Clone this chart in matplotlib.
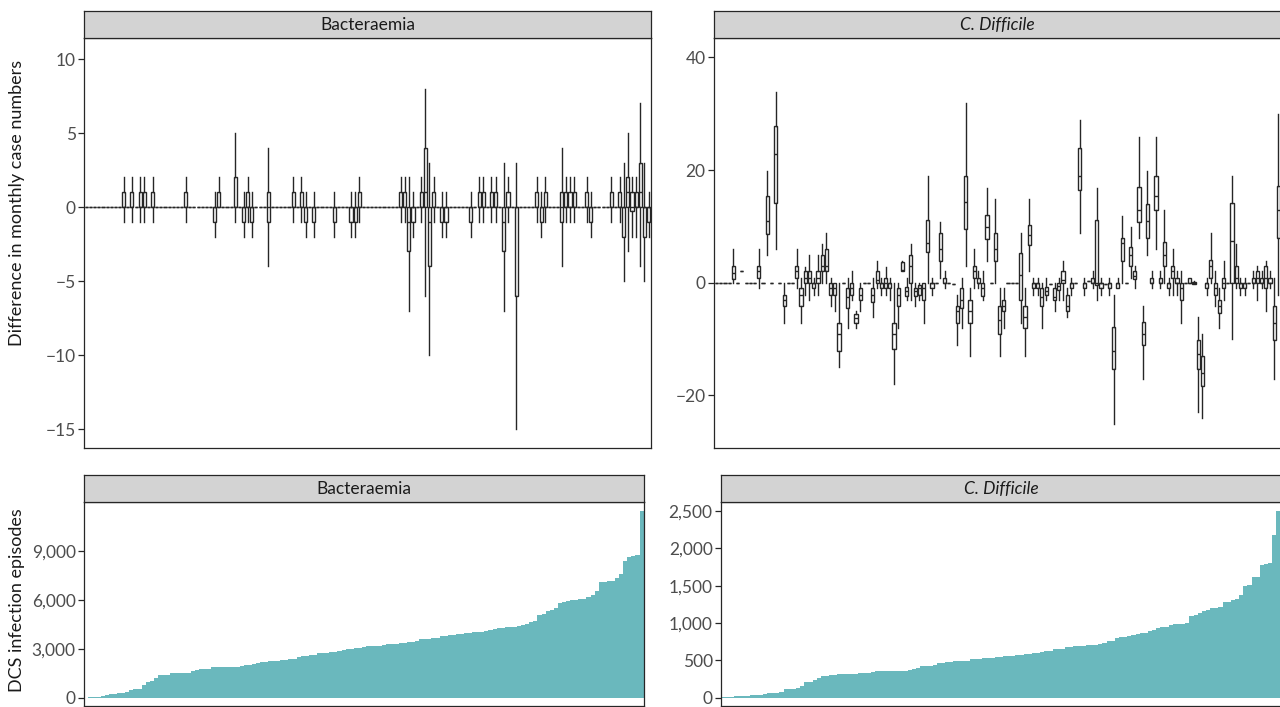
import matplotlib.pyplot as plt
from matplotlib.ticker import FuncFormatter

plt.rcParams['font.family'] = ['Lato', 'DejaVu Sans']

# ---------------------------------------------------------------------------
# Data

# Bacteraemia: monthly difference boxplots (position, low, q1, median, q3, high)
# positions not listed had no change (all zero)
bact_n = 137
bact_boxes = [
    (10, -1, 0, 0, 1, 2), (12, -1, 0, 0, 1, 2), (14, -1, 0, 0, 1, 2),
    (15, -1, 0, 0, 1, 2), (17, -1, 0, 0, 1, 2), (25, -1, 0, 0, 1, 2),
    (32, -2, -1, 0, 0, 1), (33, 0, 0, 0, 1, 2), (37, -1, 0, 0, 2, 5),
    (39, -2, -1, 0, 0, 1), (40, -1, 0, 0, 1, 2), (41, -2, -1, 0, 0, 1),
    (45, -4, -1, 0, 1, 4), (51, -1, 0, 0, 1, 2), (53, -1, 0, 0, 1, 2),
    (54, -2, -1, 0, 0, 1), (56, -2, -1, 0, 0, 1), (61, -2, -1, 0, 0, 1),
    (65, -2, -1, 0, 0, 1), (66, -2, -1, 0, 0, 1), (67, -1, 0, 0, 1, 2),
    (77, -1, 0, 0, 1, 2), (78, -1, 0, 0, 1, 2), (79, -7, -3, -1, 0, 2),
    (80, -2, -1, 0, 0, 1), (82, -1, 0, 0, 1, 2), (83, -6, 0, 1, 4, 8),
    (84, -10, -4, -1, 0, 3), (85, -1, 0, 0, 1, 2), (87, -2, -1, 0, 0, 1),
    (88, -2, -1, 0, 0, 1), (94, -2, -1, 0, 0, 1), (96, -1, 0, 0, 1, 2),
    (97, -1, 0, 0, 1, 2), (99, -1, 0, 0, 1, 2), (100, -1, 0, 0, 1, 2),
    (102, -7, -3, -1, 0, 3), (103, -1, 0, 0, 1, 2), (105, -15, -6, 0, 0, 3),
    (110, -1, 0, 0, 1, 2), (111, -2, -1, 0, 0, 1), (112, -1, 0, 0, 1, 2),
    (116, -4, -1, 0, 1, 4), (117, -1, 0, 0, 1, 2), (118, -1, 0, 0, 1, 2),
    (119, -1, 0, 0, 1, 2), (122, -1, 0, 0, 1, 2), (123, -2, -1, 0, 0, 1),
    (128, -1, 0, 0, 1, 2), (130, -1, 0, 0, 1, 2), (131, -5, -2, 0, 0, 3),
    (132, -3, 0, 1, 2, 5), (133, -2, -0.25, 0, 1, 2), (134, -2, 0, 0, 1, 2),
    (135, -4, 0, 1, 3, 7), (136, -5, -2, 0, 0, 3), (137, -2, -1, 0, 0, 1),
]

# C. difficile: monthly difference boxplots
cdiff_n = 134
cdiff_boxes = [
    (5, 0, 0.6, 1.8, 3.0, 5.9), (7, 2, 2, 2, 2, 2), (11, -1, 0.9, 2, 3, 5.9),
    (13, 4.9, 8.6, 10.9, 15.4, 19.9), (15, 5.9, 14.1, 22.9, 27.9, 33.9),
    (17, -7.1, -4.1, -3.1, -2.1, 0), (20, -1, 0.9, 2, 3, 5.9),
    (21, -7.1, -4.1, -2.1, -1, 0.9), (22, -2.1, 0, 0.9, 2, 2.8),
    (23, -3.1, 0, 0.9, 2, 4.9), (24, -2.1, -1, 0, 0, 0.9),
    (25, -2.1, 0, 0.9, 2, 4.9), (26, 0, 2, 3, 4.9, 6.9), (27, 0, 2, 3, 5.9, 8.9),
    (28, -4.1, -2.1, -1, 0, 0.9), (29, -5.1, -2.1, -1, 0, 0),
    (30, -15, -12.1, -9.1, -7.1, 0), (32, -8.1, -4.4, -2.6, -1, 0.9),
    (33, -3.1, -2.1, -1, 0, 2), (34, -8.1, -7.1, -6.3, -5.6, -5.1),
    (35, -5.1, -3.1, -2.1, -1, 0), (38, -6, -3.4, -2.1, -1, 0.9),
    (39, -1, 0, 0.5, 2, 3.9), (40, -2.1, -1, 0, 0, 0.9),
    (41, -2.1, -1, 0, 0.9, 2.8), (42, -3.1, -1, 0, 0, 0.9),
    (43, -18, -11.7, -9.1, -7.1, 0), (44, -8.1, -4.1, -2.1, -1, 0),
    (45, 2, 2, 2.2, 3.7, 3.9), (46, -3.1, -2.4, -1.5, -0.8, 0.9),
    (47, -3.1, 0, 3, 4.9, 6.9), (48, -4.1, -2.4, -1.5, -1, 0),
    (49, -3.1, -2.1, -1, -0.4, 0), (50, -7.1, -3.1, -1, 0, 0),
    (51, 0, 5.4, 7.1, 11.1, 18.9), (52, -2.1, -1, 0, 0, 0.9),
    (54, 0.9, 3.9, 5.9, 8.9, 10.8), (55, -1, 0, 0, 0.9, 2),
    (57, -0.2, -0.2, -0.2, -0.2, -0.2), (58, -11, -7.1, -5.1, -4.1, -2.1),
    (59, -8.1, -4.4, -3.1, -1, 0.9), (60, 3, 9.6, 14.4, 18.9, 31.9),
    (61, -13, -7.1, -5.1, -3.1, -1), (62, -1, 0.9, 2, 3, 5.9),
    (63, -1, 0, 0, 0.9, 2), (64, -3.1, -2.4, -1, 0, 2),
    (65, 3.9, 7.7, 9.9, 12, 16.9), (67, 0, 3.9, 5.9, 8.9, 14.9),
    (68, -13, -9.1, -6.6, -4.1, -1), (69, -8.1, -5.1, -4.1, -3.1, -1),
    (73, -7.1, -3.1, 1.4, 5.2, 8.9), (74, -13, -8.1, -6, -4.1, -1),
    (75, 2, 6.7, 8.5, 10.2, 14.9), (76, -2.1, -1, 0, 0, 0.9),
    (77, -2.1, -1, 0, 0, 0.9), (78, -8.1, -4.1, -2.5, -1, 0),
    (79, -3.1, -2.1, -1.5, -0.8, 0.9), (80, -0.2, -0.2, -0.2, -0.2, -0.2),
    (81, -5.1, -3.1, -2.5, -1, 0), (82, -3.1, -1.3, -0.5, 0, 0.9),
    (83, -3.1, 0, 0.5, 2, 3.9), (84, -6, -5.1, -4.1, -2.1, -1),
    (85, -2.1, -1, 0, 0, 0.9), (87, 8.9, 16.4, 18.9, 24, 28.9),
    (88, -2.1, -1, 0, 0, 0.9), (89, 0.35, 0.35, 0.35, 0.35, 0.35),
    (90, -1, 0, 0, 0.9, 2), (91, -3.1, -0.4, 0, 11.1, 16.9),
    (92, -2.1, -1, 0, 0, 0.9), (93, -0.2, -0.2, -0.2, -0.2, -0.2),
    (94, -2.1, -1, 0, 0, 0.9), (95, -25.1, -15.4, -12.1, -7.8, -2.2),
    (96, -1, -1, 0, 0, 0.9), (97, 0, 3.9, 7.1, 7.9, 11.9),
    (99, 0.9, 3, 4.9, 6.3, 9.9), (100, -1, 0.6, 1.2, 2, 3),
    (101, 7.9, 10.8, 12.9, 17, 25.9), (102, -17.1, -11.1, -9.1, -6.9, -4.1),
    (103, 4.9, 7.9, 10.9, 14, 19.9), (104, -1, 0, 0, 0.9, 2),
    (105, 5.9, 12.9, 15.4, 18.9, 25.9), (106, -1, 0, 0, 0.9, 2),
    (107, 0, 3, 4.9, 7.2, 12.9), (108, -2.1, -1, 0, 0, 0.9),
    (109, -2.1, 0.9, 2, 3, 5.9), (110, -2.1, 0, 0, 0.9, 2),
    (111, -7.1, -3.1, -1, 0, 2), (113, 0, 0, 0, 0.9, 0.9),
    (114, -0.3, -0.2, 0, 0.2, 0.3), (115, -23, -15.4, -12.7, -10.1, -6),
    (116, -24.1, -18.3, -16.1, -13, -9.1), (117, -2.1, -1, 0, 0, 0.9),
    (118, 0, 0.9, 3, 4.1, 8.9), (119, -4.1, -2.1, -1, 0, 2),
    (120, -8.1, -5.4, -4.1, -3.1, -1), (121, -3.1, -1, 0, 0.9, 3.9),
    (123, -10, 0, 7.4, 14.2, 18.9), (124, -1, 0, 0.9, 3, 6.9),
    (125, -2.1, -1, 0, 0, 0.9), (126, -2.1, -1, 0, 0, 0.9),
    (128, -1, 0, 0, 0.9, 2), (129, -3.1, 0, 0.9, 2, 3),
    (130, -1, 0, 0, 0.9, 2), (131, -5.1, -1, 0.9, 3, 3.9),
    (132, -1, 0, 0, 0.9, 2), (133, -17.1, -10.1, -7.1, -4.1, 0.9),
    (134, -2.1, 7.9, 12.9, 17.2, 29.9),
]

# DCS infection episodes per trust, sorted
bact_episodes = [
    0, 60, 60, 60, 120, 180, 245, 245, 300, 300, 370, 470, 550, 550, 800, 980,
    1040, 1220, 1410, 1410, 1410, 1530, 1530, 1530, 1530, 1530, 1650, 1710,
    1770, 1770, 1770, 1890, 1890, 1890, 1890, 1890, 1890, 1890, 1960, 2020,
    2020, 2080, 2140, 2200, 2200, 2265, 2265, 2265, 2330, 2330, 2390, 2390,
    2510, 2570, 2570, 2630, 2630, 2750, 2750, 2750, 2810, 2810, 2880, 2940,
    3000, 3000, 3060, 3060, 3120, 3180, 3180, 3180, 3180, 3240, 3300, 3300,
    3300, 3370, 3370, 3430, 3430, 3490, 3610, 3610, 3610, 3670, 3670, 3800,
    3800, 3860, 3860, 3920, 3920, 3980, 3980, 4040, 4040, 4040, 4100, 4160,
    4225, 4290, 4290, 4350, 4350, 4350, 4410, 4470, 4530, 4650, 4710, 5080,
    5140, 5330, 5390, 5510, 5820, 5880, 5940, 6000, 6000, 6060, 6060, 6180,
    6310, 6550, 7100, 7100, 7160, 7160, 7350, 7590, 8390, 8630, 8690, 8750,
    11450,
]
cdiff_episodes = [
    8, 8, 13, 27, 27, 27, 27, 30, 40, 40, 53, 58, 67, 67, 80, 120, 120, 120,
    134, 160, 214, 214, 240, 267, 294, 294, 307, 307, 321, 321, 321, 321, 321,
    334, 334, 334, 347, 361, 361, 361, 361, 361, 361, 361, 361, 374, 387, 401,
    428, 428, 428, 441, 468, 468, 481, 481, 495, 495, 495, 495, 521, 521, 521,
    535, 535, 535, 548, 548, 561, 561, 561, 575, 575, 588, 588, 602, 602, 615,
    628, 628, 655, 655, 655, 682, 682, 695, 695, 695, 709, 709, 709, 722, 735,
    762, 762, 802, 816, 816, 829, 842, 856, 869, 869, 896, 909, 936, 949, 949,
    976, 989, 989, 989, 1003, 1096, 1110, 1136, 1163, 1177, 1203, 1203, 1217,
    1284, 1284, 1310, 1324, 1377, 1497, 1511, 1618, 1618, 1778, 1792, 1805,
    2180, 2500,
]

# ---------------------------------------------------------------------------

W, H = 1280, 707
fig = plt.figure(figsize=(W / 100, H / 100), dpi=100)

INK = '#262626'
TEAL = '#6ab8bd'


def px_axes(x0, y0, x1, y1):
    return fig.add_axes([x0 / W, 1 - y1 / H, (x1 - x0) / W, (y1 - y0) / H])


def style_axes(ax):
    for sp in ax.spines.values():
        sp.set_color(INK)
        sp.set_linewidth(0.9)
    ax.set_xticks([])
    ax.tick_params(axis='y', length=4, width=0.9, color=INK,
                   labelcolor='#4d4d4d', labelsize=12.5, pad=2)


def strip(x0, x1, y0, y1, label, italic=False):
    s = px_axes(x0, y0, x1, y1)
    s.set_facecolor('#d3d3d3')
    s.set_xticks([])
    s.set_yticks([])
    for sp in s.spines.values():
        sp.set_color(INK)
        sp.set_linewidth(0.9)
    s.text(0.5, 0.5, label, ha='center', va='center', fontsize=12.5,
           color='#1a1a1a', style='italic' if italic else 'normal',
           transform=s.transAxes)


def box_panel(ax, rows, n):
    lookup = {r[0]: r[1:] for r in rows}
    stats = []
    for p in range(1, n + 1):
        lo, q1, med, q3, hi = lookup.get(p, (0, 0, 0, 0, 0))
        stats.append(dict(whislo=lo, q1=q1, med=med, q3=q3, whishi=hi, fliers=[]))
    ax.bxp(stats, positions=list(range(1, n + 1)), widths=0.75,
           showfliers=False, showcaps=False, patch_artist=True, manage_ticks=False,
           boxprops=dict(facecolor='white', edgecolor=INK, linewidth=1.0),
           whiskerprops=dict(color=INK, linewidth=1.0),
           medianprops=dict(color=INK, linewidth=1.0))
    ax.set_xlim(0.4, n + 0.6)
    style_axes(ax)


def bar_panel(ax, values):
    n = len(values)
    ax.bar(range(1, n + 1), values, width=1.0, color=TEAL, linewidth=0)
    ax.set_xlim(0.4, n + 0.6)
    style_axes(ax)
    ax.yaxis.set_major_formatter(FuncFormatter(lambda v, _: f'{v:,.0f}'))


# top row
ax1 = px_axes(84, 38, 651, 448)
box_panel(ax1, bact_boxes, bact_n)
ax1.set_ylim(-16.28, 11.42)
ax1.set_yticks([-15, -10, -5, 0, 5, 10])
strip(84, 651, 11, 38, 'Bacteraemia')

ax2 = px_axes(714, 38, 1281, 448)
box_panel(ax2, cdiff_boxes, cdiff_n)
ax2.set_ylim(-29.34, 43.44)
ax2.set_yticks([-20, 0, 20, 40])
strip(714, 1281, 11, 38, 'C. Difficile', italic=True)

# bottom row
ax3 = px_axes(84, 502, 644, 706)
bar_panel(ax3, bact_episodes)
ax3.set_ylim(-490, 12000)
ax3.set_yticks([0, 3000, 6000, 9000])
strip(84, 644, 475, 502, 'Bacteraemia')

ax4 = px_axes(721, 502, 1281, 706)
bar_panel(ax4, cdiff_episodes)
ax4.set_ylim(-111, 2620)
ax4.set_yticks([0, 500, 1000, 1500, 2000, 2500])
strip(721, 1281, 475, 502, 'C. Difficile', italic=True)

fig.text(17 / W, 1 - 203 / H, 'Difference in monthly case numbers', rotation=90,
         ha='center', va='center', fontsize=13, color='#1a1a1a')
fig.text(17 / W, 1 - 600 / H, 'DCS infection episodes', rotation=90,
         ha='center', va='center', fontsize=13, color='#1a1a1a')

fig.savefig('out.png', dpi=100)
